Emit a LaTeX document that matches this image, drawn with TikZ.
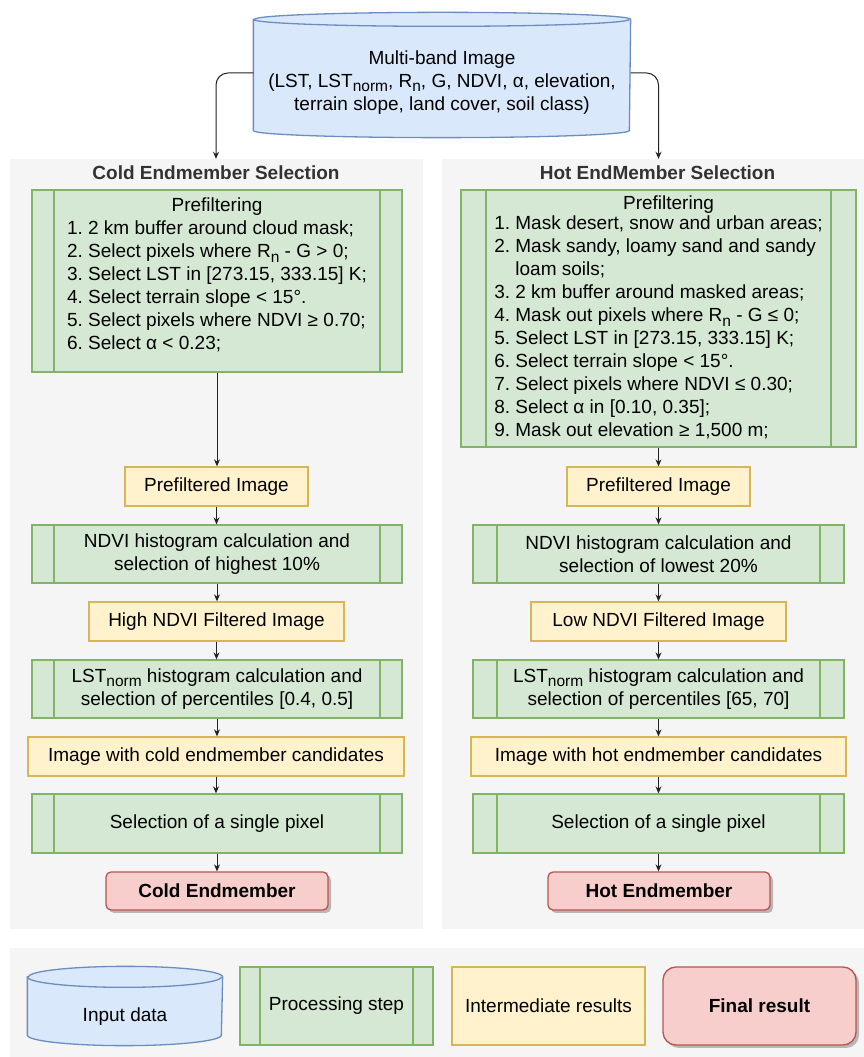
\documentclass[tikz,border=0pt]{standalone}
\usepackage{fontspec}
\setmainfont{Liberation Sans}
\usetikzlibrary{arrows.meta,shadows}
\frenchspacing
\definecolor{panel}{HTML}{F5F5F5}
\definecolor{gfill}{HTML}{D5E8D4}\definecolor{gdraw}{HTML}{82B366}
\definecolor{yfill}{HTML}{FFF2CC}\definecolor{ydraw}{HTML}{D6B656}
\definecolor{rfill}{HTML}{F8CECC}\definecolor{rdraw}{HTML}{B85450}
\definecolor{bfill}{HTML}{DAE8FC}\definecolor{bdraw}{HTML}{6C8EBF}
\definecolor{ttl}{HTML}{333333}
\definecolor{lin}{HTML}{222222}
\pgfdeclarelayer{bgzero}\pgfdeclarelayer{bgone}
\pgfsetlayers{bgzero,bgone,main}
\newcommand\mysub[1]{\raisebox{-4.5pt}{\fontsize{15.5}{16}\selectfont #1}}
\tikzset{
 base/.style={inner sep=0pt, font=\fontsize{19}{23}\selectfont, align=center, line width=1.3pt},
 proc/.style={base, draw=gdraw, fill=gfill, path picture={
   \draw[gdraw, line width=1.3pt] ([xshift=#1]path picture bounding box.north west) -- ([xshift=#1]path picture bounding box.south west);
   \draw[gdraw, line width=1.3pt] ([xshift=-#1]path picture bounding box.north east) -- ([xshift=-#1]path picture bounding box.south east);}},
 proc/.default=22pt,
 inter/.style={base, draw=ydraw, fill=yfill},
 final/.style={base, draw=rdraw, fill=rfill, rounded corners=5pt, font=\fontsize{19}{23}\selectfont\bfseries,
   drop shadow={shadow xshift=3pt, shadow yshift=-3pt, fill=black, opacity=0.25}},
 panelbox/.style={fill=panel, inner sep=0pt},
 ttlstyle/.style={font=\fontsize{19}{23}\selectfont\bfseries, text=ttl, inner sep=0pt},
 conn/.style={draw=lin, line width=1pt, -{Stealth[length=7pt,width=6pt]}},
 cylst/.style={fill=bfill, draw=bdraw, line width=1.3pt},
}
\newcommand\mycyl[3]{%
 \path[cylst] ([yshift=-#3]#1.north west) -- ([yshift=#3]#1.south west)
   arc[start angle=180,end angle=360,x radius=#2,y radius=#3]
   -- ([yshift=-#3]#1.north east)
   arc[start angle=0,end angle=180,x radius=#2,y radius=#3] -- cycle;
 \draw[bdraw, line width=1.3pt] ([yshift=-#3]#1.north west) arc[start angle=180,end angle=360,x radius=#2,y radius=#3];
}
\begin{document}
\begin{tikzpicture}[x=1pt,y=1pt]
\useasboundingbox (0,0) rectangle (864,1057);
\begin{pgfonlayer}{bgzero}
\node[panelbox, minimum width=413pt, minimum height=770pt] (cpanel) at (216.5,513) {};
\node[panelbox, minimum width=422pt, minimum height=770pt] (hpanel) at (653,513) {};
\node[panelbox, minimum width=854pt, minimum height=109pt] (lpanel) at (437,54.5) {};
\end{pgfonlayer}

\node[ttlstyle] (ctitle) at (216,884) {Cold Endmember Selection};
\node[ttlstyle] (htitle) at (657.5,884) {Hot EndMember Selection};

% input cylinder
\node[base, minimum width=376pt, minimum height=124pt] (img) at (442,982)
 {\begin{tabular}{@{}c@{}}\\[-8pt]Multi-band Image\\ (LST, LST\mysub{norm}, R\mysub{n}, G, NDVI, α, elevation,\\ terrain slope, land cover, soil class)\end{tabular}};
\begin{pgfonlayer}{bgone}\mycyl{img}{188pt}{7pt}\end{pgfonlayer}

% cold column
\node[proc, minimum width=370pt, minimum height=182pt] (cpre) at (217,776)
 {\begin{tabular}{@{}l@{}}\multicolumn{1}{@{}c@{}}{Prefiltering}\\
 1. 2 km buffer around cloud mask;\\
 2. Select pixels where R\mysub{n} - G > 0;\\
 3. Select LST in [273.15, 333.15] K;\\
 4. Select terrain slope < 15°.\\
 5. Select pixels where NDVI ≥ 0.70;\\
 6. Select α < 0.23;\\[10pt]\end{tabular}};
\node[inter, minimum width=183pt, minimum height=39pt] (cpi) at (216.5,570.5) {Prefiltered Image};
\node[proc, minimum width=370pt, minimum height=58pt] (cndvi) at (217,503) {NDVI histogram calculation and\\ selection of highest 10\%};
\node[inter, minimum width=255pt, minimum height=39pt] (chigh) at (216.5,435.5) {High NDVI Filtered Image};
\node[proc, minimum width=370pt, minimum height=58pt] (clst) at (217,368) {LST\mysub{norm} histogram calculation and\\ selection of percentiles [0.4, 0.5]};
\node[inter, minimum width=376pt, minimum height=39pt] (ccand) at (216,300.5) {Image with cold endmember candidates};
\node[proc, minimum width=370pt, minimum height=59pt] (csel) at (217,233.5) {Selection of a single pixel};
\node[final, minimum width=222pt, minimum height=38pt] (cend) at (217,166) {Cold Endmember};

% hot column
\node[proc=25pt, minimum width=395pt, minimum height=257pt] (hpre) at (658.5,738.5)
 {\begin{tabular}{@{}l@{}}\multicolumn{1}{@{}c@{}}{\hspace{20pt}Prefiltering}\\[-3pt]
 1. Mask desert, snow and urban areas;\\
 2. Mask sandy, loamy sand and sandy\\
 \hphantom{2. }loam soils;\\
 3. 2 km buffer around masked areas;\\
 4. Mask out pixels where R\mysub{n} - G ≤ 0;\\
 5. Select LST in [273.15, 333.15] K;\\
 6. Select terrain slope < 15°.\\
 7. Select pixels where NDVI ≤ 0.30;\\
 8. Select α in [0.10, 0.35];\\
 9. Mask out elevation ≥ 1,500 m;\end{tabular}};
\node[inter, minimum width=183pt, minimum height=39pt] (hpi) at (658.5,570.5) {Prefiltered Image};
\node[proc=24pt, minimum width=371pt, minimum height=58pt] (hndvi) at (658.5,503) {NDVI histogram calculation and\\ selection of lowest 20\%};
\node[inter, minimum width=255pt, minimum height=39pt] (hlow) at (658.5,435.5) {Low NDVI Filtered Image};
\node[proc=24pt, minimum width=371pt, minimum height=58pt] (hlst) at (658.5,368) {LST\mysub{norm} histogram calculation and\\ selection of percentiles [65, 70]};
\node[inter, minimum width=375pt, minimum height=39pt] (hcand) at (658.5,300.5) {Image with hot endmember candidates};
\node[proc=24pt, minimum width=371pt, minimum height=59pt] (hsel) at (658.5,233.5) {Selection of a single pixel};
\node[final, minimum width=222pt, minimum height=38pt] (hend) at (659,166) {Hot Endmember};

% connectors
\draw[conn, rounded corners=12pt] ([yshift=2pt]img.west) -| (ctitle.north |- cpanel.north);
\draw[conn, rounded corners=12pt] ([yshift=2pt]img.east) -| (hpre.north |- hpanel.north);
\foreach \a/\b in {cpre/cpi,cpi/cndvi,cndvi/chigh,chigh/clst,clst/ccand,ccand/csel,csel/cend,
                   hpre/hpi,hpi/hndvi,hndvi/hlow,hlow/hlst,hlst/hcand,hcand/hsel,hsel/hend}
  \draw[conn] (\a.south) -- (\a.south |- \b.north);

% legend
\node[base, minimum width=194pt, minimum height=78pt] (lcyl) at (125,51)
 {\begin{tabular}{@{}c@{}}\\[-1pt]Input data\end{tabular}};
\begin{pgfonlayer}{bgone}\mycyl{lcyl}{97pt}{10.5pt}\end{pgfonlayer}
\node[proc=20pt, minimum width=193pt, minimum height=78pt] (lproc) at (336.5,51) {Processing step};
\node[inter, minimum width=193pt, minimum height=78pt] (linter) at (548.5,51) {Intermediate results};
\node[final, rounded corners=13pt, minimum width=193pt, minimum height=78pt] (lfinal) at (759.5,51) {Final result};
\end{tikzpicture}
\end{document}
